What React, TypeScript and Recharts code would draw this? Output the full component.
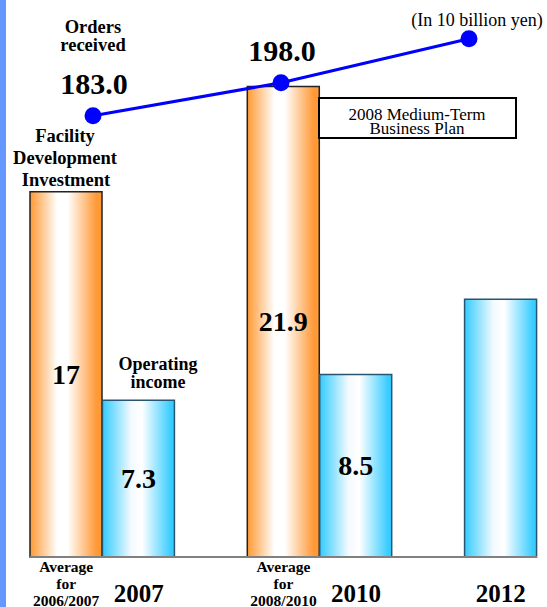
import { BarChart, Bar, LineChart, Line, XAxis, YAxis, LabelList } from 'recharts';

// bar slots along the bottom (each bar takes one slot, slots 2 and 5 stay empty)
const slots = ['avg0607', '2007', 'gap1', 'avg0810', '2010', 'gap2', '2012'];
const slotLabels = [
  ['Average', 'for', '2006/2007'],
  ['2007'],
  [],
  ['Average', 'for', '2008/2010'],
  ['2010'],
  [],
  ['2012'],
];
const facilityInvestment = [17, null, null, 21.9, null, null, null];
const facilityLabels = ['17', '', '', '21.9', '', '', ''];
const operatingIncome = [null, 7.3, null, null, 8.5, null, 12];
const operatingLabels = ['', '7.3', '', '', '8.5', '', ''];

// orders received line
const orderPeriods = ['2007', '2010', '2012'];
const ordersReceived = [183.0, 198.0, 218];
const orderLabels = ['183.0', '198.0', ''];

const W = 547;
const H = 607;
const FONT = "'Liberation Serif', 'DejaVu Serif', serif";

const barData = slots.map((s, i) => ({
  slot: s,
  facility: facilityInvestment[i],
  facilityLabel: facilityLabels[i],
  operating: operatingIncome[i],
  operatingLabel: operatingLabels[i],
}));

const lineData = orderPeriods.map((p, i) => ({
  period: p,
  orders: ordersReceived[i],
  label: orderLabels[i],
}));

const txt = (size: number, bold = true) => ({
  style: { fontFamily: FONT, fontWeight: bold ? 700 : 400, fontSize: size },
  fill: '#000',
  textAnchor: 'middle' as const,
  dominantBaseline: 'central' as const,
});

function SlotTick(props: any) {
  const { x, y, payload } = props;
  const idx = slots.indexOf(payload.value);
  const lines = slotLabels[idx] || [];
  if (lines.length === 1) {
    return <text x={x} y={y + 28} {...txt(25)}>{lines[0]}</text>;
  }
  return (
    <g>
      {lines.map((t, k) => (
        <text key={k} x={x} y={y + 1 + k * 17} {...txt(15.5)}>{t}</text>
      ))}
    </g>
  );
}

function BarValue(props: any) {
  const { x, y, width, height, value } = props;
  if (!value) return null;
  return <text x={x + width / 2} y={y + height / 2} {...txt(28)}>{value}</text>;
}

function OrderValue(props: any) {
  const { x, y, value } = props;
  if (!value) return null;
  return <text x={x + 1} y={y - 32} {...txt(30)}>{value}</text>;
}

export default function App() {
  return (
    <div style={{ position: 'absolute', left: 0, top: 0, width: W, height: H, background: '#fff', overflow: 'hidden' }}>
      <div style={{ position: 'absolute', left: 0, top: 0, width: 6, height: H, background: '#6699ff' }} />

      <div style={{ position: 'absolute', left: 0, top: 0 }}>
        <BarChart width={W} height={H} data={barData} barCategoryGap={0} barGap={0}
          margin={{ top: 20, right: 10, left: 30, bottom: 0 }}>
          <defs>
            <linearGradient id="gradOrange" x1="0" y1="0" x2="1" y2="0">
              <stop offset="0%" stopColor="#ff9933" />
              <stop offset="38%" stopColor="#ffffff" />
              <stop offset="52%" stopColor="#ffffff" />
              <stop offset="92%" stopColor="#ff9a38" />
              <stop offset="100%" stopColor="#ff9933" />
            </linearGradient>
            <linearGradient id="gradCyan" x1="0" y1="0" x2="1" y2="0">
              <stop offset="0%" stopColor="#33ccff" />
              <stop offset="40%" stopColor="#f4faff" />
              <stop offset="55%" stopColor="#ffffff" />
              <stop offset="95%" stopColor="#3acdff" />
              <stop offset="100%" stopColor="#33ccff" />
            </linearGradient>
          </defs>
          <XAxis dataKey="slot" height={50} tickLine={false} interval={0}
            axisLine={{ stroke: '#808080', strokeWidth: 2 }} tick={<SlotTick />} />
          <YAxis hide domain={[0, 25]} />
          <Bar dataKey="facility" stackId="a" fill="url(#gradOrange)" stroke="#222" strokeWidth={1.5}
            isAnimationActive={false}>
            <LabelList dataKey="facilityLabel" content={<BarValue />} />
          </Bar>
          <Bar dataKey="operating" stackId="a" fill="url(#gradCyan)" stroke="#2a5570" strokeWidth={1.5}
            isAnimationActive={false}>
            <LabelList dataKey="operatingLabel" content={<BarValue />} />
          </Bar>
        </BarChart>
      </div>

      <div style={{ position: 'absolute', left: 0, top: 0, pointerEvents: 'none' }}>
        <LineChart width={W} height={H} data={lineData}
          margin={{ top: 20, right: 78, left: 93, bottom: 50 }}>
          <XAxis dataKey="period" hide />
          <YAxis hide domain={[-17.5, 226.5]} />
          <Line dataKey="orders" stroke="#0000ff" strokeWidth={3}
            dot={{ r: 8.5, fill: '#0000ff', stroke: '#0000ff', strokeWidth: 0 }}
            isAnimationActive={false}>
            <LabelList dataKey="label" content={<OrderValue />} />
          </Line>
        </LineChart>
      </div>

      <svg width={W} height={H} style={{ position: 'absolute', left: 0, top: 0, pointerEvents: 'none' }}>
        <text x={93} y={27} {...txt(18.5)}>Orders</text>
        <text x={93} y={45} {...txt(18.5)}>received</text>

        <text x={65} y={136} {...txt(18.5)}>Facility</text>
        <text x={65} y={158} {...txt(18.5)}>Development</text>
        <text x={66} y={180} {...txt(18.5)}>Investment</text>

        <text x={158} y={364} {...txt(18)}>Operating</text>
        <text x={158} y={382} {...txt(18)}>income</text>

        <text x={477} y={20} {...txt(18, false)}>(In 10 billion yen)</text>

        <rect x={319} y={98} width={197} height={40} fill="#fff" stroke="#000" strokeWidth={2} />
        <text x={417} y={114} {...txt(17, false)}>2008 Medium-Term</text>
        <text x={417} y={128} {...txt(17, false)}>Business Plan</text>
      </svg>
    </div>
  );
}
